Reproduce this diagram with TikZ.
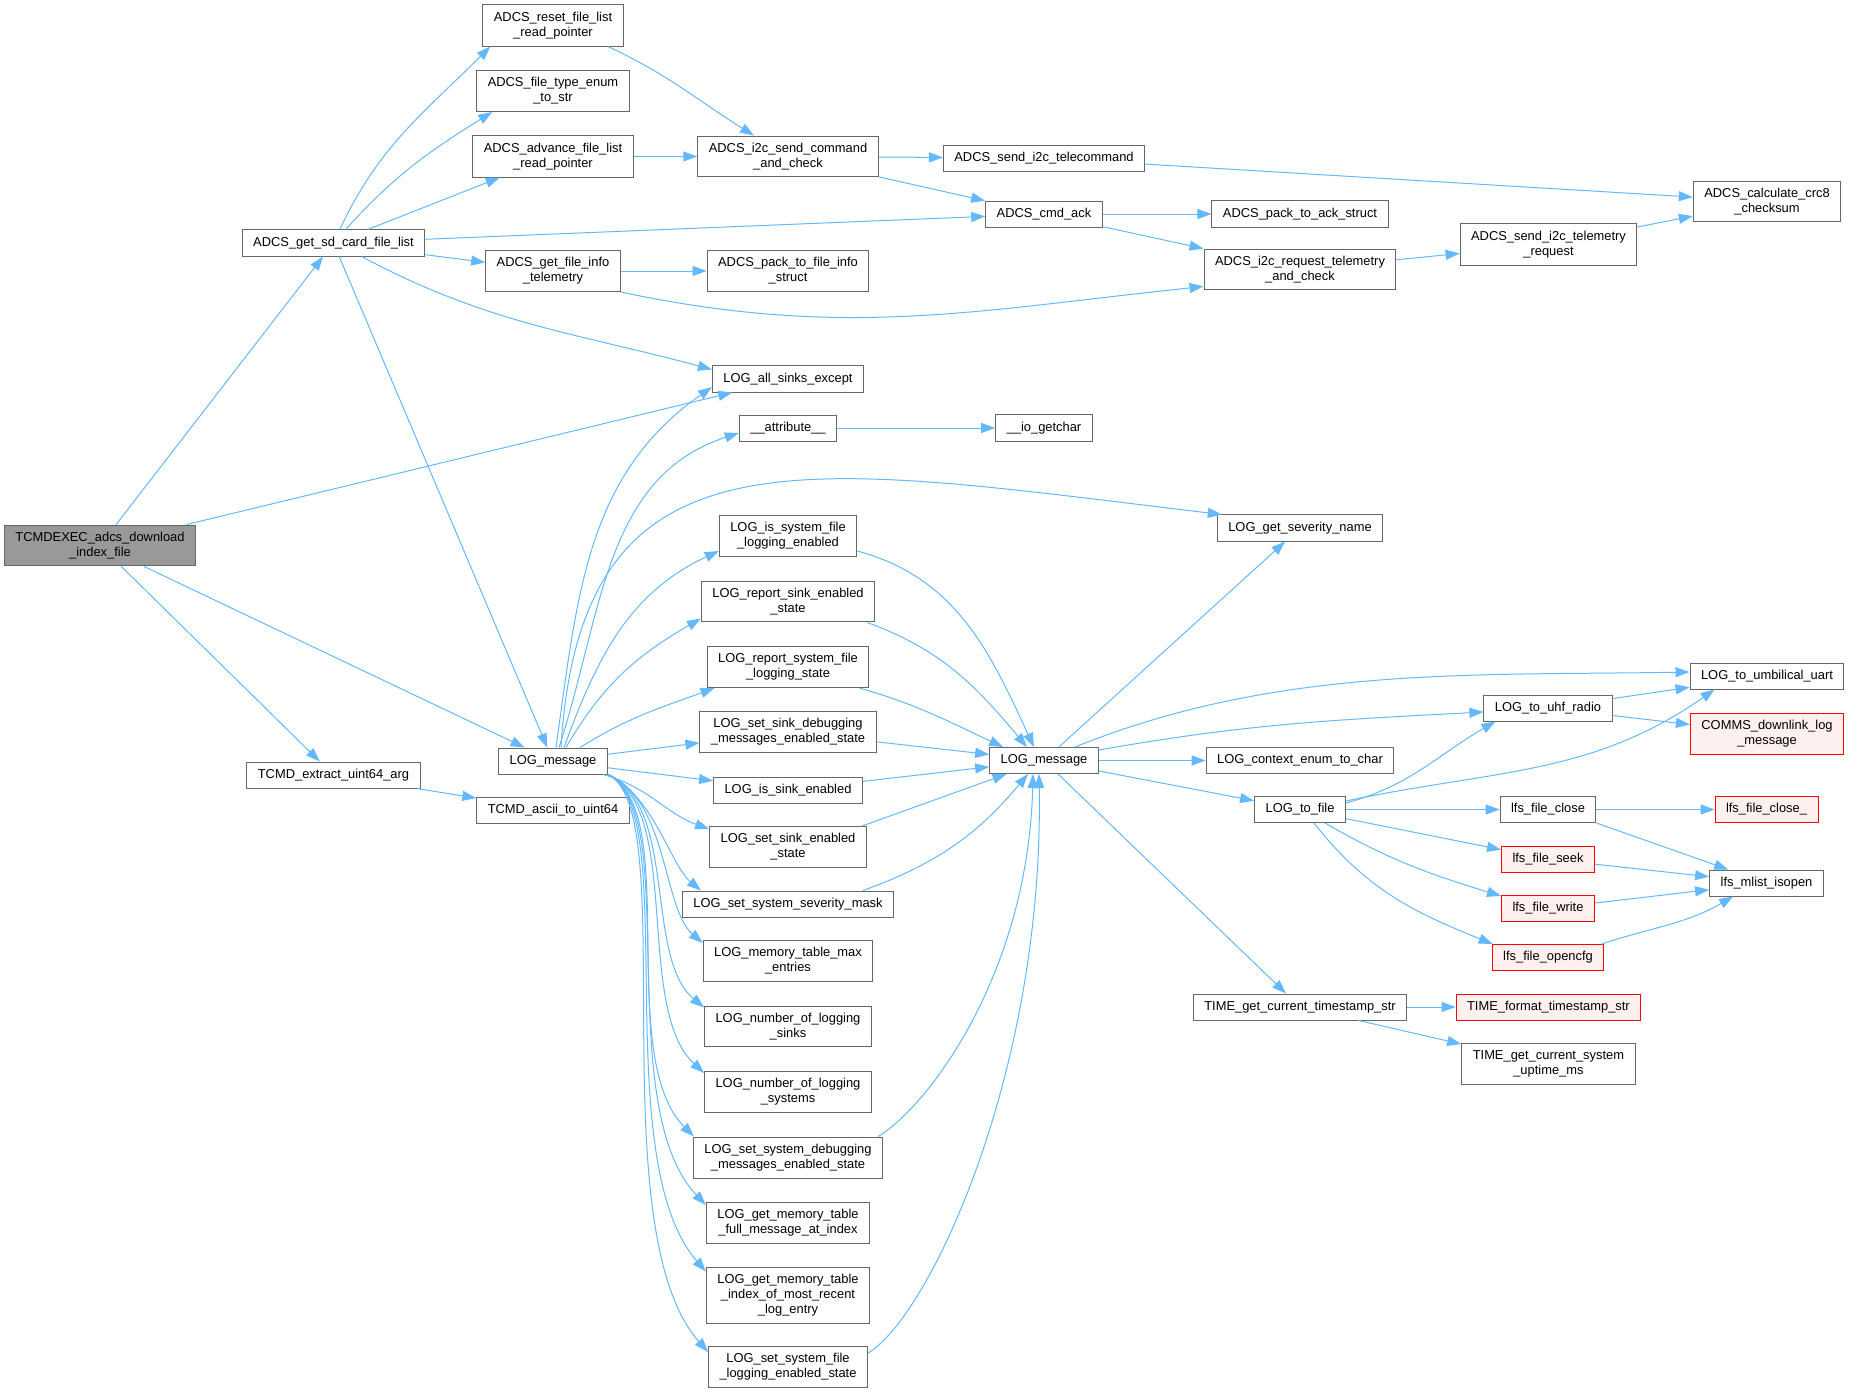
\documentclass[tikz,border=0pt]{standalone}
\usepackage{fontspec}
\setmainfont{Liberation Sans}
\usetikzlibrary{arrows.meta,positioning}
\definecolor{callblue}{HTML}{63B8FF}
\definecolor{boxgray}{HTML}{666666}
\definecolor{rootgray}{HTML}{999999}
\definecolor{extred}{HTML}{FF0000}
\definecolor{extpink}{HTML}{FFF0F0}
\newcommand{\fnfont}{\fontsize{12.9}{15}\selectfont}
\tikzset{
  func/.style={draw=boxgray, line width=1pt, fill=white, font=\fnfont, align=center,
    inner xsep=11pt, inner ysep=7pt, minimum height=26pt},
  funcext/.style={func, draw=extred, fill=extpink},
  funcroot/.style={func, fill=rootgray},
  callarrow/.style={color=callblue, line width=1pt, -{Triangle[length=14pt,width=10pt]}}
}
\begin{document}
\begin{tikzpicture}[x=1pt, y=1pt, node distance=256pt]
    \useasboundingbox (0,0) rectangle (1849,-1393);

    \node[funcroot] (tex) at (100,-545.5) {TCMDEXEC\_adcs\_download\\\_index\_file};
    \node[func] (getsd) at (333.5,-243) {ADCS\_get\_sd\_card\_file\_list};
    \node[func] (extract) at (333.5,-775) {TCMD\_extract\_uint64\_arg};
    \node[func] (reset) at (553,-25.5) {ADCS\_reset\_file\_list\\\_read\_pointer};
    \node[func] (ftype) at (553,-91) {ADCS\_file\_type\_enum\\\_to\_str};
    \node[func] (advance) at (553,-156.5) {ADCS\_advance\_file\_list\\\_read\_pointer};
    \node[func] (fileinfo) at (553,-271) {ADCS\_get\_file\_info\\\_telemetry};
    \node[func] (logmsg) at (553,-761) {LOG\_message};
    \node[func] (ascii) at (553,-810.5) {TCMD\_ascii\_to\_uint64};
    \node[func] (sendcmd) at (788,-156.5) {ADCS\_i2c\_send\_command\\\_and\_check};
    \node[func] (packinfo) at (788,-271) {ADCS\_pack\_to\_file\_info\\\_struct};
    \node[func] (allsinks) at (788,-379) {LOG\_all\_sinks\_except};
    \node[func] (attr) at (788,-428) {\_\_attribute\_\_};
    \node[func] (issysfile) at (788,-536) {LOG\_is\_system\_file\\\_logging\_enabled};
    \node[func] (repsink) at (788,-601.5) {LOG\_report\_sink\_enabled\\\_state};
    \node[func] (repsysfile) at (788,-667) {LOG\_report\_system\_file\\\_logging\_state};
    \node[func] (setsinkdbg) at (788,-732) {LOG\_set\_sink\_debugging\\\_messages\_enabled\_state};
    \node[func] (issink) at (788,-790) {LOG\_is\_sink\_enabled};
    \node[func] (setsink) at (788,-847) {LOG\_set\_sink\_enabled\\\_state};
    \node[func] (sevmask) at (788,-904) {LOG\_set\_system\_severity\_mask};
    \node[func] (memmax) at (788,-961) {LOG\_memory\_table\_max\\\_entries};
    \node[func] (nsinks) at (788,-1026.5) {LOG\_number\_of\_logging\\\_sinks};
    \node[func] (nsystems) at (788,-1092) {LOG\_number\_of\_logging\\\_systems};
    \node[func] (setsysdbg) at (788,-1157.5) {LOG\_set\_system\_debugging\\\_messages\_enabled\_state};
    \node[func] (memfull) at (788,-1223) {LOG\_get\_memory\_table\\\_full\_message\_at\_index};
    \node[func] (memidx) at (788,-1295) {LOG\_get\_memory\_table\\\_index\_of\_most\_recent\\\_log\_entry};
    \node[func] (setsysfile) at (788,-1367) {LOG\_set\_system\_file\\\_logging\_enabled\_state};
    \node[func] (telecmd) at (1044,-158) {ADCS\_send\_i2c\_telecommand};
    \node[func] (cmdack) at (1044,-214) {ADCS\_cmd\_ack};
    \node[func] (getchar) [right of=attr] {\_\_io\_getchar};
    \node[func] (logmsgb) at (1044,-760.5) {LOG\_message};
    \node[func] (packack) [right of=cmdack] {ADCS\_pack\_to\_ack\_struct};
    \node[func] (reqtlm) at (1300,-269.5) {ADCS\_i2c\_request\_telemetry\\\_and\_check};
    \node[func] (sevname) at (1300,-528) {LOG\_get\_severity\_name};
    \node[func] (ctxchar) [right of=logmsgb] {LOG\_context\_enum\_to\_char};
    \node[func] (tofile) at (1300,-809.5) {LOG\_to\_file};
    \node[func] (tstamp) at (1300,-1007) {TIME\_get\_current\_timestamp\_str};
    \node[func] (sendtlm) at (1548.5,-244.5) {ADCS\_send\_i2c\_telemetry\\\_request};
    \node[func] (uhf) at (1548,-708) {LOG\_to\_uhf\_radio};
    \node[func] (fclose) at (1548,-809.5) {lfs\_file\_close};
    \node[funcext] (fseek) at (1548,-859) {lfs\_file\_seek};
    \node[funcext] (fwrite) at (1548,-908.5) {lfs\_file\_write};
    \node[funcext] (fopencfg) at (1548,-957.5) {lfs\_file\_opencfg};
    \node[funcext] (tformat) at (1548.4,-1007) {TIME\_format\_timestamp\_str};
    \node[func] (uptime) at (1548.4,-1064) {TIME\_get\_current\_system\\\_uptime\_ms};
    \node[func] (crc) at (1767,-201.5) {ADCS\_calculate\_crc8\\\_checksum};
    \node[func] (uart) at (1767,-676) {LOG\_to\_umbilical\_uart};
    \node[funcext] (downlink) at (1767,-733.5) {COMMS\_downlink\_log\\\_message};
    \node[funcext] (fclosei) at (1766.5,-809.5) {lfs\_file\_close\_};
    \node[func] (isopen) at (1766.5,-883) {lfs\_mlist\_isopen};

    \path[callarrow] (tex) edge (getsd)
      (tex) edge (allsinks)
      (tex) edge (logmsg)
      (tex) edge (extract);
    \path[callarrow] (getsd) edge[out=65,in=225] ([xshift=8pt]reset.south west)
      (getsd) edge[out=48,in=212] ([xshift=16pt]ftype.south west)
      (getsd) edge (advance)
      (getsd) edge (cmdack)
      (getsd) edge (fileinfo)
      ([xshift=28pt]getsd.south) edge[out=-28,in=165] ([yshift=-4pt]allsinks.north west)
      (getsd) edge (logmsg);
    \path[callarrow] ([xshift=55pt]reset.south) edge[out=-25,in=148] ([xshift=-34pt]sendcmd.north)
      (advance) edge (sendcmd)
      (sendcmd) edge (telecmd)
      (sendcmd) edge (cmdack)
      (telecmd) edge (crc)
      (cmdack) edge (packack)
      (cmdack) edge (reqtlm)
      (fileinfo) edge (packinfo)
      (fileinfo.south east) edge[out=-12,in=186] ([yshift=4pt]reqtlm.south west)
      (reqtlm) edge (sendtlm)
      (sendtlm) edge (crc)
      (attr) edge (getchar)
      (extract) edge (ascii);

    \path[callarrow] ([xshift=3pt]logmsg.north) edge[out=82,in=215] ([yshift=-8pt]allsinks.west)
      ([xshift=6pt]logmsg.north) edge[out=72,in=198] ([yshift=-5pt]attr.west)
      ([xshift=11pt]logmsg.north) edge[out=70,in=205] ([yshift=-15pt]issysfile.west)
      ([xshift=13pt]logmsg.north) edge[out=60,in=210] ([yshift=-17pt]repsink.west)
      ([xshift=27pt]logmsg.north) edge[out=32,in=200] ([xshift=8pt]repsysfile.south west)
      (logmsg) edge (setsinkdbg)
      (logmsg) edge (issink)
      ([xshift=50pt]logmsg.south) edge[out=-15,in=160] ([yshift=-3pt]setsink.north west);
    \draw[callarrow] ([xshift=8pt]logmsg.north) .. controls +(20,330) and +(-420,50) .. ([xshift=5pt]sevname.north west);
    \draw[callarrow] (logmsg.south east) .. controls +(45,-20) and +(-30,25) .. ([xshift=19pt]sevmask.north west);
    \draw[callarrow] (logmsg.south east) .. controls +(60,-25) and +(-40,35) .. ([yshift=-3pt]memmax.north west);
    \draw[callarrow] (logmsg.south east) .. controls +(70,-30) and +(-60,50) .. ([yshift=-2pt]nsinks.north west);
    \draw[callarrow] (logmsg.south east) .. controls +(75,-35) and +(-70,65) .. ([yshift=-2pt]nsystems.north west);
    \draw[callarrow] (logmsg.south east) .. controls +(75,-35) and +(-80,80) .. ([xshift=1pt]setsysdbg.north west);
    \draw[callarrow] (logmsg.south east) .. controls +(75,-35) and +(-95,100) .. ([yshift=-3pt]memfull.north west);
    \draw[callarrow] (logmsg.south east) .. controls +(75,-35) and +(-100,115) .. ([yshift=-5pt]memidx.north west);
    \draw[callarrow] (logmsg.south east) .. controls +(75,-35) and +(-110,125) .. ([yshift=-6pt]setsysfile.north west);

    \path[callarrow] ([yshift=-15pt]issysfile.east) edge[out=-15,in=115] ([xshift=-10pt]logmsgb.north)
      ([xshift=-8pt]repsink.south east) edge[out=-20,in=130] ([xshift=-17pt]logmsgb.north)
      ([xshift=-10pt]repsysfile.south east) edge[out=-16,in=155] ([xshift=14pt]logmsgb.north west)
      (setsinkdbg) edge (logmsgb)
      (issink) edge (logmsgb)
      ([xshift=-5pt]setsink.north east) edge (logmsgb)
      ([xshift=-31pt]sevmask.north east) edge[out=20,in=-130] ([xshift=-16pt]logmsgb.south);
    \draw[callarrow] ([xshift=-5pt]setsysdbg.north east) .. controls +(50,30) and +(-5,-200) .. ([xshift=-11pt]logmsgb.south);
    \draw[callarrow] ([yshift=14pt]setsysfile.east) .. controls +(60,35) and +(5,-300) .. ([xshift=-5pt]logmsgb.south);

    \path[callarrow] (logmsgb) edge (sevname)
      ([xshift=31pt]logmsgb.north) edge[out=22,in=181,looseness=0.9] ([yshift=4pt]uart.west)
      ([yshift=-3pt]logmsgb.north east) edge[out=10,in=183] ([yshift=-4pt]uhf.west)
      (logmsgb) edge (ctxchar)
      (logmsgb) edge (tofile)
      (logmsgb) edge (tstamp);
    \path[callarrow] (uhf) edge (uart)
      (uhf) edge (downlink)
      ([yshift=-7pt]tofile.north east) edge[out=15,in=210] ([xshift=12pt]uhf.south west)
      ([yshift=-5pt]tofile.north east) edge[out=12,in=215] ([xshift=25pt]uart.south west)
      (tofile) edge (fclose)
      (tofile) edge (fseek)
      ([xshift=25pt]tofile.south) edge[out=-30,in=163] ([yshift=-1pt]fwrite.north west)
      ([xshift=14pt]tofile.south) edge[out=-52,in=158] ([xshift=1pt]fopencfg.north west)
      (fclose) edge (fclosei)
      (fclose.south east) edge (isopen)
      (fseek) edge (isopen)
      (fwrite) edge (isopen)
      ([xshift=-3pt]fopencfg.north east) edge[out=18,in=-150] ([xshift=24pt]isopen.south west)
      (tstamp) edge (tformat)
      (tstamp) edge (uptime);
\end{tikzpicture}
\end{document}
